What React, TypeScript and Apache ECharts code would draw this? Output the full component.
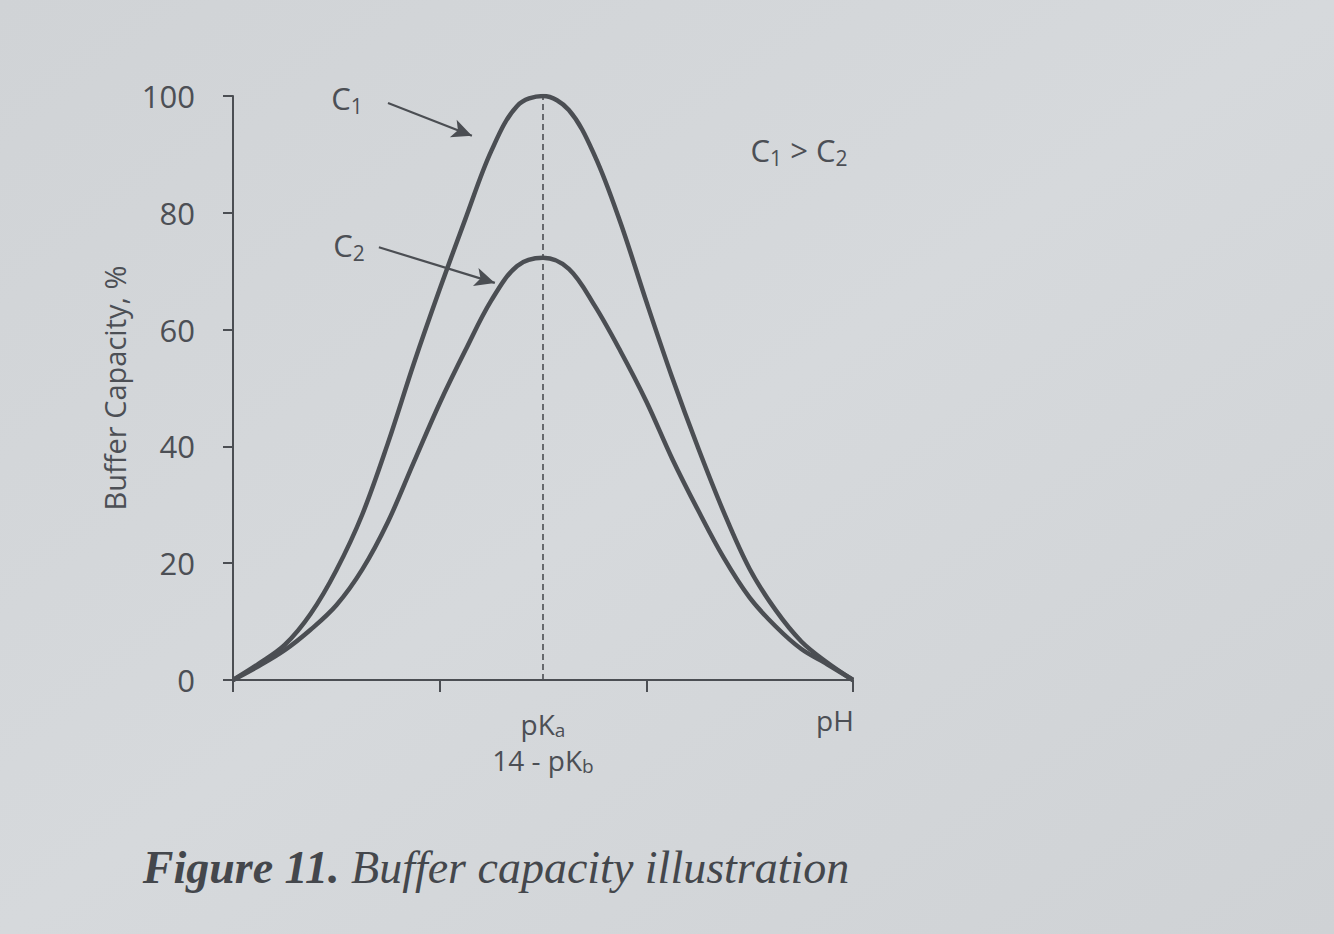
import React, { useEffect, useRef } from "react";
import * as echarts from "echarts";

const xTicks = [0, 1, 2, 3];
const yTickLabels = ["0", "20", "40", "60", "80", "100"];
const pKaValue = 1.5;

const xSteps = [
  0, 0.125, 0.25, 0.375, 0.5, 0.625, 0.75, 0.875, 1, 1.125, 1.25, 1.375, 1.5,
  1.625, 1.75, 1.875, 2, 2.125, 2.25, 2.375, 2.5, 2.625, 2.75, 2.875, 3,
];

const c1Values = [
  0, 2.8, 6.0, 11.3, 18.8, 28.3, 40.6, 54.2, 66.9, 79.0, 90.6, 98.3, 100,
  97.6, 89.8, 78.3, 64.8, 51.8, 39.8, 28.7, 19.0, 12.0, 6.6, 3.0, 0,
];

const c2Values = [
  0, 2.4, 5.1, 8.6, 12.8, 18.9, 27.1, 37.3, 47.4, 56.5, 65.0, 70.9, 72.3,
  70.4, 64.1, 56.3, 47.7, 37.9, 29.1, 20.9, 14.1, 9.2, 5.3, 2.7, 0,
];

const arrowC1: [number, number][] = [[0.75, 98.8], [1.156, 93.2]];
const arrowC2: [number, number][] = [[0.706, 74.1], [1.267, 68.0]];

const INK = "#4b4e53";
const TEXT = "#4c4f55";

export default function App() {
  const ref = useRef<HTMLDivElement>(null);
  useEffect(() => {
    if (!ref.current) return;
    const chart = echarts.init(ref.current, null, { renderer: "svg" });
    const sub = {
      m: { fontSize: 31, fontFamily: "Open Sans", fill: TEXT },
      s: { fontSize: 21, fontFamily: "Open Sans", fill: TEXT, padding: [16, 0, 0, 0] },
    };
    chart.setOption({
      animation: false,
      backgroundColor: {
        type: "linear", x: 0, y: 0, x2: 1, y2: 1,
        colorStops: [
          { offset: 0, color: "#d0d3d6" },
          { offset: 0.5, color: "#d6d9dc" },
          { offset: 1, color: "#cfd2d5" },
        ],
      },
      grid: { left: 233, right: 481, top: 96, bottom: 254, containLabel: false },
      xAxis: {
        type: "value",
        min: 0,
        max: 3,
        interval: 1,
        axisLine: { show: true, onZero: false, lineStyle: { color: INK, width: 2 } },
        axisTick: { show: true, length: 12, customValues: xTicks, lineStyle: { color: INK, width: 2 } },
        axisLabel: {
          show: true,
          customValues: [pKaValue],
          margin: 26,
          lineHeight: 36,
          formatter: () => "{m|pK}{s|a}\n{m|14 - pK}{s|b}",
          rich: {
            m: { fontSize: 28, fontFamily: "Open Sans", color: TEXT, lineHeight: 36 },
            s: { fontSize: 19, fontFamily: "Open Sans", color: TEXT, lineHeight: 36, padding: [12, 0, 0, 0] },
          },
        },
        splitLine: { show: false },
      },
      yAxis: {
        type: "value",
        min: 0,
        max: 100,
        interval: 20,
        name: "Buffer Capacity, %",
        nameLocation: "middle",
        nameRotate: 90,
        nameGap: 104,
        nameTextStyle: { fontSize: 29, fontFamily: "Open Sans", color: TEXT },
        axisLine: { show: true, lineStyle: { color: INK, width: 2 } },
        axisTick: { show: true, length: 10, lineStyle: { color: INK, width: 2 } },
        axisLabel: {
          margin: 38,
          fontSize: 31,
          fontFamily: "Open Sans",
          color: TEXT,
          formatter: (v: number) => yTickLabels[Math.round(v / 20)] ?? "",
        },
        splitLine: { show: false },
      },
      series: [
        {
          name: "C1",
          type: "line",
          data: xSteps.map((x, i) => [x, c1Values[i]]),
          smooth: 0.35,
          symbol: "none",
          lineStyle: { color: INK, width: 4.5 },
          markLine: {
            silent: true,
            symbol: ["none", "none"],
            label: { show: false },
            lineStyle: { color: INK, width: 1.6, type: [6, 4] },
            data: [[{ coord: [pKaValue, 0] }, { coord: [pKaValue, 100] }]],
          },
          z: 3,
        },
        {
          name: "C2",
          type: "line",
          data: xSteps.map((x, i) => [x, c2Values[i]]),
          smooth: 0.35,
          symbol: "none",
          lineStyle: { color: INK, width: 4.5 },
          markLine: {
            silent: true,
            symbol: ["none", "arrow"],
            symbolSize: [14, 20],
            label: { show: false },
            lineStyle: { color: INK, width: 2.2, type: "solid" },
            data: [
              [{ coord: arrowC1[0] }, { coord: arrowC1[1] }],
              [{ coord: arrowC2[0] }, { coord: arrowC2[1] }],
            ],
          },
          z: 3,
        },
      ],
      graphic: [
        {
          type: "text",
          x: 347,
          y: 98,
          style: { text: "{m|C}{s|1}", rich: sub, align: "center", verticalAlign: "middle" },
        },
        {
          type: "text",
          x: 349,
          y: 245,
          style: { text: "{m|C}{s|2}", rich: sub, align: "center", verticalAlign: "middle" },
        },
        {
          type: "text",
          x: 799,
          y: 150,
          style: { text: "{m|C}{s|1}{m| > C}{s|2}", rich: sub, align: "center", verticalAlign: "middle" },
        },
        {
          type: "text",
          x: 835,
          y: 720,
          style: {
            text: "pH",
            fontSize: 28,
            fontFamily: "Open Sans",
            fill: TEXT,
            align: "center",
            verticalAlign: "middle",
          },
        },
        {
          type: "text",
          x: 496,
          y: 867,
          style: {
            text: "{b|Figure 11. }{i|Buffer capacity illustration}",
            align: "center",
            verticalAlign: "middle",
            rich: {
              b: { fontSize: 46, fontFamily: "Liberation Serif", fontStyle: "italic", fontWeight: "bold", fill: "#44474c" },
              i: { fontSize: 46, fontFamily: "Liberation Serif", fontStyle: "italic", fill: "#44474c" },
            },
          },
        },
      ],
    });
    return () => chart.dispose();
  }, []);
  return (
    <div
      ref={ref}
      style={{ position: "fixed", left: 0, top: 0, width: 1334, height: 934 }}
    />
  );
}
